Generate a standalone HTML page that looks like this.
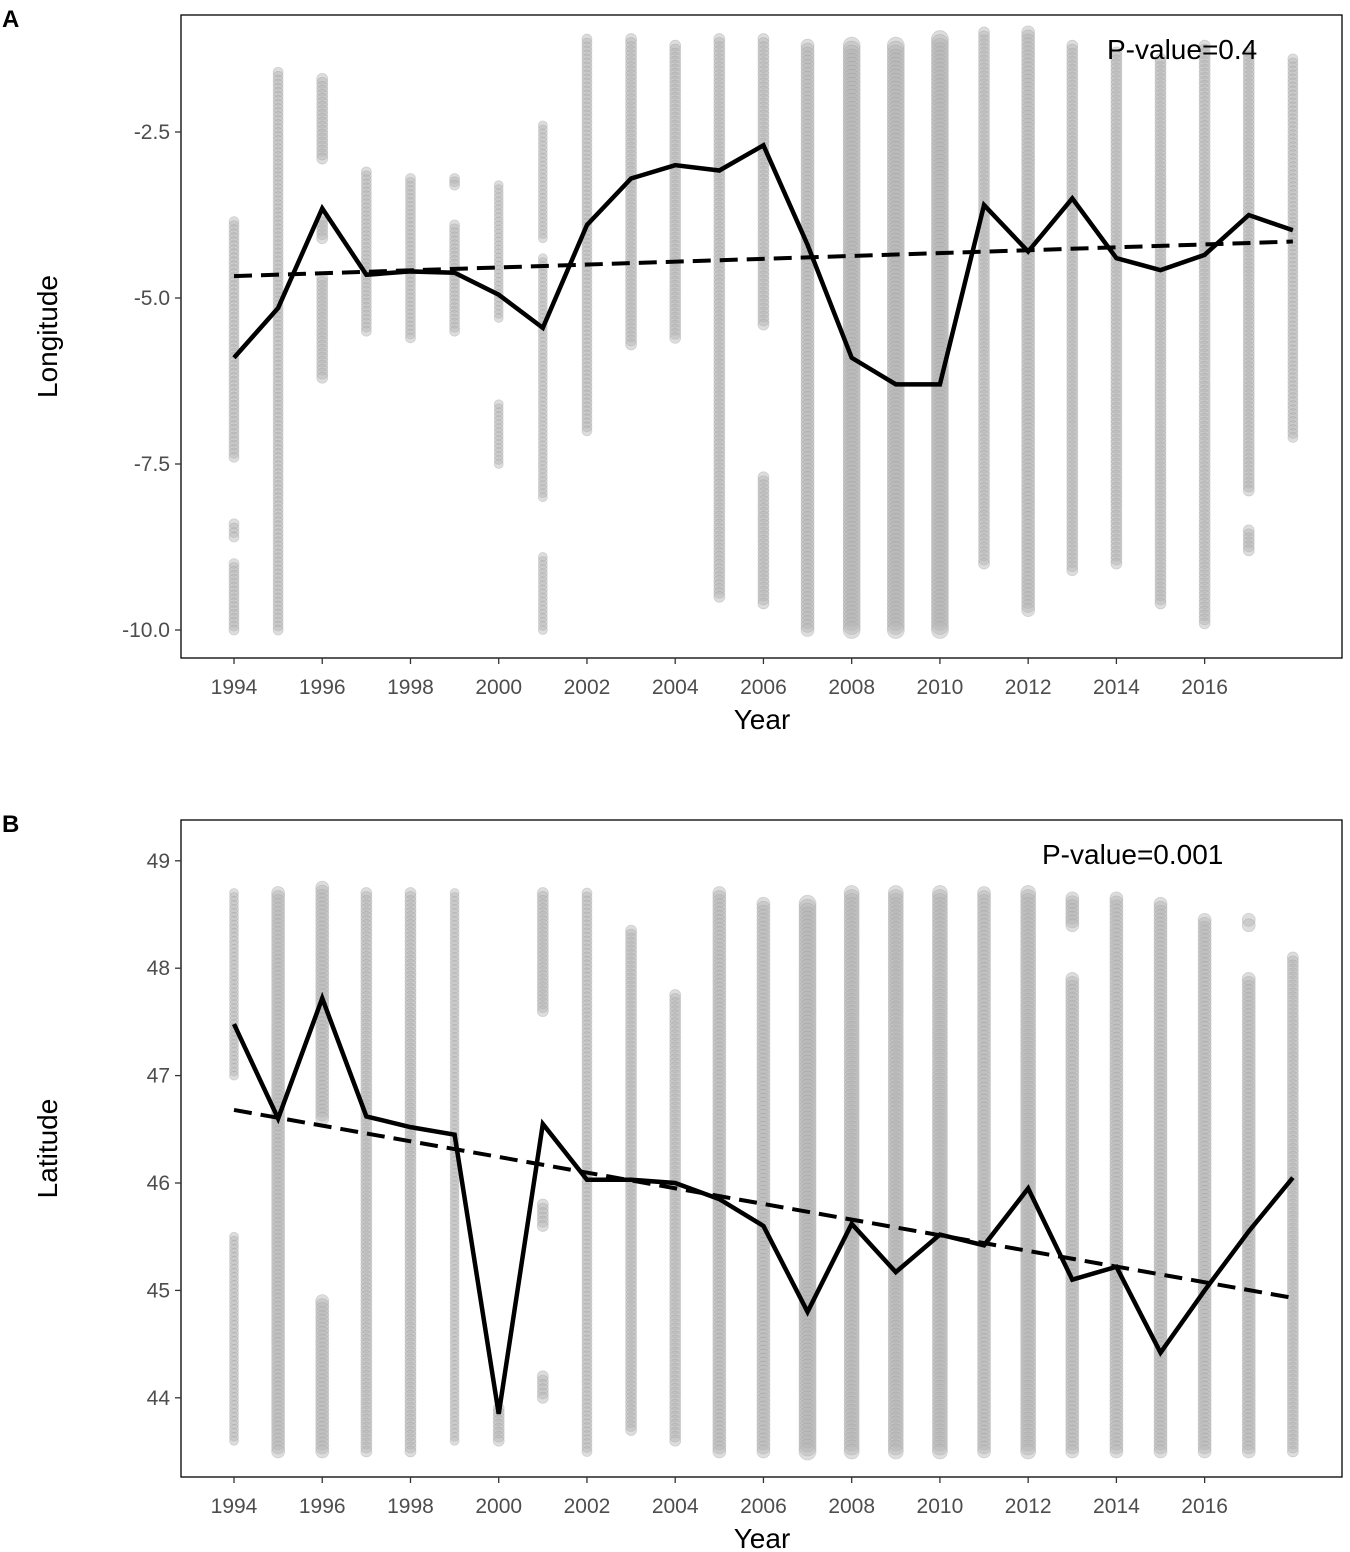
<!DOCTYPE html>
<html><head><meta charset="utf-8">
<style>
body{margin:0;background:#fff;}
svg{display:block;font-family:"Liberation Sans",Arial,sans-serif;}
</style></head>
<body>
<svg id="chart" width="1350" height="1552" viewBox="0 0 1350 1552">
<g id="A"></g>
<g id="B"></g>
</svg>
<script>
const years=[1994,1995,1996,1997,1998,1999,2000,2001,2002,2003,2004,2005,2006,2007,2008,2009,2010,2011,2012,2013,2014,2015,2016,2017,2018];
const xTicks=[1994,1996,1998,2000,2002,2004,2006,2008,2010,2012,2014,2016];
const lonMean=[-5.9,-5.15,-3.65,-4.65,-4.6,-4.62,-4.95,-5.45,-3.9,-3.2,-3.0,-3.08,-2.7,-4.2,-5.9,-6.3,-6.3,-3.6,-4.3,-3.5,-4.4,-4.58,-4.35,-3.75,-3.98];
const lonTrend=[-4.67,-4.15];
const lonTicks=[-2.5,-5.0,-7.5,-10.0];
const lonCols=[
[[-3.85,-7.4],[-8.4,-8.6],[-9.0,-10]],[[-1.6,-10]],[[-1.7,-2.9],[-3.8,-4.1],[-4.7,-6.2]],[[-3.1,-5.5]],[[-3.2,-5.6]],
[[-3.2,-3.3],[-3.9,-5.5]],[[-3.3,-5.3],[-6.6,-7.5]],[[-2.4,-4.1],[-4.4,-8.0],[-8.9,-10]],[[-1.1,-7.0]],[[-1.1,-5.7]],
[[-1.2,-5.6]],[[-1.1,-9.5]],[[-1.1,-5.4],[-7.7,-9.6]],[[-1.2,-10]],[[-1.2,-10]],[[-1.2,-10]],[[-1.1,-10]],[[-1.0,-9.0]],
[[-1.0,-9.7]],[[-1.2,-9.1]],[[-1.3,-9.0]],[[-1.4,-9.6]],[[-1.2,-9.9]],[[-1.3,-7.9],[-8.5,-8.8]],[[-1.4,-7.1]]];
const lonSize=[5,5,5.5,5,5,5,4.5,4.5,5,5.5,5.5,5.5,5.5,6.5,8.5,8.5,8.5,5.5,6.5,5.5,5.5,5.5,5.5,5.5,5];
const latMean=[47.48,46.6,47.72,46.62,46.52,46.45,43.85,46.55,46.03,46.03,46.0,45.85,45.6,44.8,45.62,45.17,45.52,45.42,45.95,45.1,45.22,44.42,45.0,45.55,46.05];
const latTrend=[46.68,44.93];
const latTicks=[44,45,46,47,48,49];
const latCols=[
[[48.7,47.0],[45.5,43.6]],[[48.7,43.5]],[[48.75,46.6],[44.9,43.5]],[[48.7,43.5]],[[48.7,43.5]],[[48.7,43.6]],[[43.9,43.6]],
[[48.7,47.6],[45.8,45.6],[44.2,44.0]],[[48.7,43.5]],[[48.35,43.7]],[[47.75,43.6]],[[48.7,43.5]],[[48.6,43.5]],[[48.6,43.5]],
[[48.7,43.5]],[[48.7,43.5]],[[48.7,43.5]],[[48.7,43.5]],[[48.7,43.5]],[[48.65,48.4],[47.9,43.5]],[[48.65,43.5]],[[48.6,43.5]],
[[48.45,43.5]],[[48.45,48.4],[47.9,43.5]],[[48.1,43.5]]];
const latSize=[4.5,6.5,6.5,5.5,5.5,4.5,5.5,5.5,5,5.5,5.5,6.5,6.5,8.5,7.5,7.5,7.5,6.5,7.5,6.5,6.5,6.5,6.5,6.5,5.5];

const NS="http://www.w3.org/2000/svg";
function mk(p,t,a){const e=document.createElementNS(NS,t);for(const k in a)e.setAttribute(k,a[k]);p.appendChild(e);return e;}
const X=y=>234+(y-1994)*44.12;

function panel(g,cfg){
  const {top,bottom,y,ticks,cols,sizes,mean,trend,label,pv,pvx,ylabel,fmt}=cfg;
  const pts=mk(g,'g',{});
  
  
  cols.forEach((segs,i)=>{
    segs.forEach(s=>{
      const y1=y(s[0]),y2=y(s[1]);const n=Math.max(1,Math.round((y2-y1)/4));
      for(let k=0;k<=n;k++){
        const c=mk(pts,'circle',{cx:X(years[i]),cy:y1+(y2-y1)*k/n,r:sizes[i],fill:'#b4b4b4','fill-opacity':0.45,stroke:'#9a9a9a','stroke-opacity':0.35,'stroke-width':0.8});
        
        
      }
    });
  });
  const box=mk(g,'rect',{x:181,y:top,width:1161,height:bottom-top,fill:'none',stroke:'#000','stroke-width':1.3});
  
  
  ticks.forEach(t=>{
    mk(g,'line',{x1:175,x2:181,y1:y(t),y2:y(t),stroke:'#333','stroke-width':1.3});
    const tx=mk(g,'text',{x:170,y:y(t)+7,'text-anchor':'end','font-size':21,fill:'#4d4d4d'});
    tx.textContent=fmt(t);
    
    
  });
  xTicks.forEach(t=>{
    mk(g,'line',{x1:X(t),x2:X(t),y1:bottom,y2:bottom+6,stroke:'#333','stroke-width':1.3});
    const tx=mk(g,'text',{x:X(t),y:bottom+36,'text-anchor':'middle','font-size':21,fill:'#4d4d4d'});
    tx.textContent=t;
    
    
  });
  const tr=mk(g,'line',{x1:X(1994),y1:y(trend[0]),x2:X(2018),y2:y(trend[1]),stroke:'#000','stroke-width':4,'stroke-dasharray':'18,9'});
  
  
  const ml=mk(g,'polyline',{points:mean.map((v,i)=>X(years[i])+','+y(v)).join(' '),fill:'none',stroke:'#000','stroke-width':4.5,'stroke-linejoin':'miter'});
  
  
  const p=mk(g,'text',{x:pvx,y:top+44,'font-size':28,fill:'#000'});p.textContent=pv;
  
  
  const xl=mk(g,'text',{x:762,y:bottom+71,'text-anchor':'middle','font-size':28,fill:'#000'});xl.textContent='Year';
  
  
  const yl=mk(g,'text',{x:0,y:0,'text-anchor':'middle','font-size':28,fill:'#000',transform:`translate(57,${(top+bottom)/2}) rotate(-90)`});yl.textContent=ylabel;
  
  
  const L=mk(g,'text',{x:2,y:top+12,'font-size':24,'font-weight':'bold',fill:'#000'});L.textContent=label;
  
  
}
panel(document.getElementById('A'),{top:15,bottom:658,y:v=>298+(v+5)*(-66.4),ticks:lonTicks,cols:lonCols,sizes:lonSize,mean:lonMean,trend:lonTrend,label:'A',pv:'P-value=0.4',pvx:1107,ylabel:'Longitude',fmt:t=>t.toFixed(1)});
panel(document.getElementById('B'),{top:820,bottom:1477,y:v=>1183-(v-46)*107.4,ticks:latTicks,cols:latCols,sizes:latSize,mean:latMean,trend:latTrend,label:'B',pv:'P-value=0.001',pvx:1042,ylabel:'Latitude',fmt:t=>t});
</script>
</body></html>
